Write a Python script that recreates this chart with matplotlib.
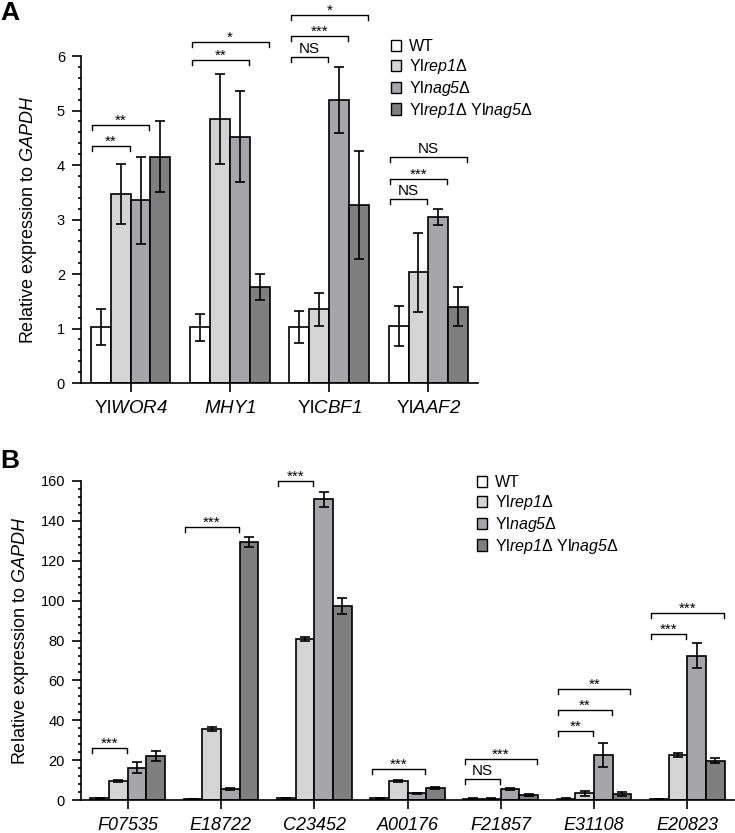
import numpy as np
import matplotlib
matplotlib.use("Agg")
import matplotlib.pyplot as plt
from matplotlib.patches import Patch
from matplotlib.ticker import MultipleLocator

plt.rcParams['font.family'] = ['Liberation Sans', 'DejaVu Sans']
# italic everywhere inside $...$ (digits included)
plt.rcParams['mathtext.fontset'] = 'custom'
plt.rcParams['mathtext.rm'] = 'Liberation Sans:italic'
plt.rcParams['mathtext.it'] = 'Liberation Sans:italic'

# strains / colours
strains = ['WT', r'Yl$\mathit{rep1}$Δ', r'Yl$\mathit{nag5}$Δ', r'Yl$\mathit{rep1}$Δ Yl$\mathit{nag5}$Δ']
colors = ['#ffffff', '#d4d4d4', '#a6a6a8', '#7f7f7f']

# panel A data
genes_a = [r'Yl$\mathit{WOR4}$', r'$\mathit{MHY1}$', r'Yl$\mathit{CBF1}$', r'Yl$\mathit{AAF2}$']
wt_a = [1.03, 1.02, 1.03, 1.05]
rep1_a = [3.47, 4.84, 1.35, 2.03]
nag5_a = [3.35, 4.52, 5.19, 3.04]
double_a = [4.15, 1.76, 3.27, 1.40]
wt_a_err = [0.33, 0.25, 0.30, 0.37]
rep1_a_err = [0.55, 0.83, 0.31, 0.72]
nag5_a_err = [0.80, 0.84, 0.61, 0.15]
double_a_err = [0.65, 0.24, 0.99, 0.36]
# (gene, compared strain, height, label)
sig_a = [(0, 1, 4.35, '**'), (0, 2, 4.73, '**'),
         (1, 2, 5.92, '**'), (1, 3, 6.26, '*'),
         (2, 1, 5.98, 'NS'), (2, 2, 6.37, '***'), (2, 3, 6.75, '*'),
         (3, 1, 3.37, 'NS'), (3, 2, 3.75, '***'), (3, 3, 4.14, 'NS')]

# panel B data
genes_b = ['F07535', 'E18722', 'C23452', 'A00176', 'F21857', 'E31108', 'E20823']
wt_b = [0.8, 0.5, 0.8, 0.8, 0.6, 0.7, 0.5]
rep1_b = [9.5, 35.6, 80.9, 9.5, 0.6, 3.3, 22.6]
nag5_b = [16.2, 5.5, 150.8, 3.3, 5.4, 22.6, 72.4]
double_b = [22.1, 129.3, 97.3, 5.9, 2.5, 3.0, 19.7]
wt_b_err = [0.3, 0.2, 0.3, 0.3, 0.2, 0.3, 0.2]
rep1_b_err = [0.4, 0.8, 1.0, 0.4, 0.2, 1.2, 0.8]
nag5_b_err = [2.9, 0.5, 3.8, 0.4, 0.4, 6.2, 6.2]
double_b_err = [2.4, 2.4, 4.2, 0.4, 0.5, 0.8, 1.2]
sig_b = [(0, 1, 25.9, '***'), (1, 2, 137, '***'), (2, 1, 160, '***'),
         (3, 2, 15.7, '***'), (4, 1, 10.4, 'NS'), (4, 3, 20.7, '***'),
         (5, 1, 34.8, '**'), (5, 2, 45.3, '**'), (5, 3, 55.5, '**'),
         (6, 1, 83.4, '***'), (6, 3, 94, '***')]

width = 0.2


def draw_panel(ax, genes, series, errs, sig, ymax, major, minor, tick_drop, xfs, xstyle):
    idx = np.arange(len(genes))
    for k in range(4):
        x = idx + (k - 1.5) * width
        ax.bar(x, series[k], width, color=colors[k], edgecolor='black', linewidth=1.2, zorder=2)
        ax.errorbar(x, series[k], yerr=errs[k], fmt='none', ecolor='black',
                    elinewidth=1.2, capsize=3.5, capthick=1.2, zorder=3)
    for g, k, y, lab in sig:
        x0 = g - 2 * width + 0.015
        x1 = g - 2 * width + (k + 1) * width - 0.01
        ax.plot([x0, x0, x1, x1], [y - tick_drop, y, y, y - tick_drop], color='black',
                lw=1.0, clip_on=False, zorder=4)
        off = -2 if '*' in lab else 1
        ax.annotate(lab, xy=((x0 + x1) / 2, y), xytext=(0, off), textcoords='offset points',
                    ha='center', va='bottom', fontsize=11, annotation_clip=False)
    ax.set_xlim(-0.5, len(genes) - 0.5)
    ax.set_ylim(0, ymax)
    ax.set_xticks(idx)
    ax.set_xticklabels(genes, fontsize=xfs, style=xstyle)
    ax.yaxis.set_major_locator(MultipleLocator(major))
    ax.yaxis.set_minor_locator(MultipleLocator(minor))
    ax.tick_params(axis='y', which='major', length=6.5, width=1.2, labelsize=10.5, pad=5)
    ax.tick_params(axis='y', which='minor', length=2.5, width=1.2)
    ax.tick_params(axis='x', which='major', length=6.5, width=1.2, pad=6)
    for s in ['top', 'right']:
        ax.spines[s].set_visible(False)
    for s in ['left', 'bottom']:
        ax.spines[s].set_linewidth(1.2)
    ax.set_ylabel(r'Relative expression to $\mathit{GAPDH}$', fontsize=13)


fig = plt.figure(figsize=(7.35, 8.33), dpi=100)

ax_a = fig.add_axes([81 / 735, 1 - 383 / 833, 397 / 735, 327 / 833])
draw_panel(ax_a, genes_a, [wt_a, rep1_a, nag5_a, double_a],
           [wt_a_err, rep1_a_err, nag5_a_err, double_a_err], sig_a, 6, 1, 0.2, 0.09,
           13.5, 'normal')
ax_a.yaxis.set_label_coords(-0.105, 0.5)

ax_b = fig.add_axes([81 / 735, 1 - 800 / 833, 653 / 735, 319 / 833])
draw_panel(ax_b, genes_b, [wt_b, rep1_b, nag5_b, double_b],
           [wt_b_err, rep1_b_err, nag5_b_err, double_b_err], sig_b, 160, 20, 4, 2.5,
           13, 'italic')
ax_b.yaxis.set_label_coords(-0.076, 0.5)

handles = [Patch(facecolor=c, edgecolor='black', linewidth=1.0) for c in colors]
leg_kw = dict(loc='upper left', frameon=False, fontsize=11.5, handlelength=0.65,
              handleheight=0.7, handletextpad=0.45, labelspacing=0.18, borderpad=0,
              borderaxespad=0)
fig.legend(handles, strains, bbox_to_anchor=(391 / 735, 1 - 39 / 833), **leg_kw)
fig.legend(handles, strains, bbox_to_anchor=(477 / 735, 1 - 475 / 833), **leg_kw)

fig.text(0.0, 1 - 20 / 833, 'A', fontsize=19, fontweight='bold', va='baseline')
fig.text(0.0, 1 - 468 / 833, 'B', fontsize=19, fontweight='bold', va='baseline')

fig.savefig('out.png', dpi=100)
